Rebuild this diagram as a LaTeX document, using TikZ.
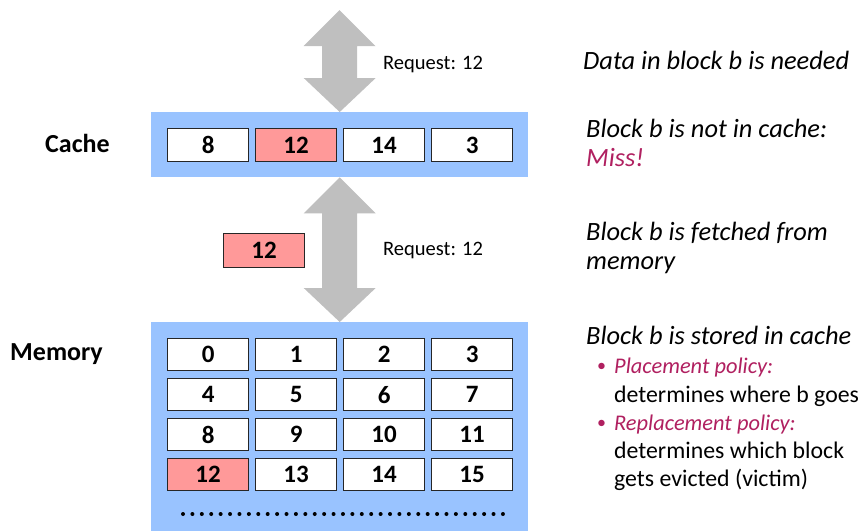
\documentclass[tikz,border=0pt]{standalone}
\usepackage{fontspec}
\setmainfont{Carlito}
\usetikzlibrary{calc}
\definecolor{bandblue}{RGB}{153,195,255}
\definecolor{hitpink}{RGB}{255,153,153}
\definecolor{arrowgray}{RGB}{191,191,191}
\definecolor{policy}{RGB}{176,32,96}
\newcommand\fatarrow[2]{%
  \fill[arrowgray] (#1) -- ++(36,36) -- ++(-18.5,0) -- ($(#2)+(17.5,-34)$) -- ++(18.5,0) -- (#2)
    -- ++(-36,-34) -- ++(18.5,0) -- ($(#1)+(-17.5,36)$) -- ++(-18.5,0) -- cycle;}
\begin{document}
\begin{tikzpicture}[x=1pt,y=-1pt,
  band/.style={fill=bandblue, draw=none, inner sep=0pt, anchor=north west},
  cell/.style={draw=black!85, line width=1.2pt, fill=white, minimum width=81pt, minimum height=33pt,
    inner sep=0pt, anchor=north west, font=\fontsize{25}{26}\selectfont\bfseries},
  mcell/.style={cell, minimum height=32pt},
  hit/.style={fill=hitpink},
  lbl/.style={anchor=base west, inner sep=0pt, font=\fontsize{26}{28}\selectfont\bfseries},
  req/.style={anchor=base west, inner sep=0pt, font=\fontsize{20.5}{24}\selectfont},
  note/.style={anchor=base west, inner sep=0pt, font=\fontsize{26.4}{28}\selectfont\itshape},
  sub/.style={anchor=base west, inner sep=0pt, font=\fontsize{23.8}{26}\selectfont},
  pol/.style={anchor=base west, inner sep=0pt, font=\fontsize{22.4}{26}\selectfont\itshape, text=policy},
  bul/.style={anchor=base west, inner sep=0pt, text=policy, font=\fontsize{18}{20}\selectfont},
  dotline/.style={line width=4pt, line cap=round, dash pattern=on 0pt off 9.41pt}
]
\useasboundingbox (0,0) rectangle (865,531);

% bands
\node[band, minimum width=377pt, minimum height=65pt] (cache) at (151,112) {};
\node[band, minimum width=377pt, minimum height=209pt] (mem) at (151,322) {};

% arrows
\coordinate (a1top) at (339.5,10);
\fatarrow{a1top}{cache.north}
\fatarrow{cache.south}{mem.north}

% cache cells
\node[cell] (c0) at (167,128) {8};
\node[cell, hit] (c1) at (255,128) {12};
\node[cell] (c2) at (343,128) {14};
\node[cell] (c3) at (431,128) {3};

% fetched block
\node[cell, hit, minimum height=34pt] (fb) at (223,233) {12};

% memory cells
\foreach \r in {0,...,3}{
  \foreach \c in {0,...,3}{
    \pgfmathtruncatemacro\n{4*\r+\c}
    \ifnum\n=12
      \node[mcell, hit] (m\n) at ({167+88*\c},{338+40*\r}) {\n};
    \else
      \node[mcell] (m\n) at ({167+88*\c},{338+40*\r}) {\n};
    \fi
  }
}
\coordinate (dl) at (183,514);
\coordinate (dr) at (503,514);
\draw[dotline] (dl) -- (dr);

% labels
\node[lbl] (lcache) at (45,152) {Cache};
\node[lbl] (lmem) at (10,360) {Memory};
\node[req] (r1) at (383,69) {Request: 12};
\node[req] (r2) at (383,255) {Request: 12};

% notes
\node[note] (n1) at (583,69) {Data in block b is needed};
\node[note] (n2) at (586,137) {Block b is not in cache:};
\node[note, text=policy] (n3) at (586,166) {Miss!};
\node[note] (n4) at (586,240) {Block b is fetched from};
\node[note] (n5) at (586,269) {memory};
\node[note] (n6) at (586,344) {Block b is stored in cache};
\node[bul] (b1) at (597,371) {\textbullet};
\node[pol] (n7) at (614,373) {Placement policy:};
\node[sub] (n8) at (614,402) {determines where b goes};
\node[bul] (b2) at (597,428) {\textbullet};
\node[pol] (n9) at (614,430) {Replacement policy:};
\node[sub] (n10) at (614,458) {determines which block};
\node[sub] (n11) at (614,486) {gets evicted (victim)};
\end{tikzpicture}
\end{document}
